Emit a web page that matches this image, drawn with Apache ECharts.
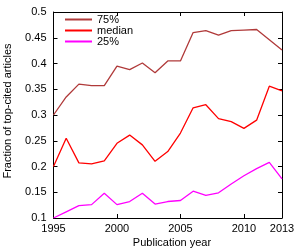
<!DOCTYPE html>
<html><head><meta charset="utf-8">
<script src="https://cdn.jsdelivr.net/npm/echarts@6/dist/echarts.min.js"></script>
<style>html,body{margin:0;padding:0;background:#fff}#c{width:300px;height:250px}</style>
</head><body><div id="c"></div>
<script>
var years = [1995,1996,1997,1998,1999,2000,2001,2002,2003,2004,2005,2006,2007,2008,2009,2010,2011,2012,2013];
var p75 = [0.300,0.335,0.360,0.357,0.357,0.395,0.388,0.401,0.382,0.405,0.405,0.460,0.464,0.455,0.464,0.465,0.466,0.446,0.426];
var median = [0.200,0.255,0.207,0.205,0.211,0.245,0.261,0.242,0.210,0.229,0.265,0.314,0.320,0.293,0.287,0.274,0.290,0.356,0.347];
var p25 = [0.100,0.112,0.124,0.126,0.148,0.126,0.132,0.148,0.127,0.132,0.134,0.152,0.144,0.149,0.166,0.182,0.196,0.208,0.176];
var seriesNames = ['75%','median','25%'];
var colors = ['#b03a3a','#ff0000','#ff00ff'];
var xTitle = 'Publication year';
var yTitle = 'Fraction of top-cited articles';

function pairs(v){ return years.map(function(y,i){ return [y, v[i]]; }); }
var font = 'Liberation Sans, Arial, sans-serif';
var chart = echarts.init(document.getElementById('c'), null, {renderer:'canvas'});
var axLine = {show:true, lineStyle:{color:'#000', width:1}};
chart.setOption({
  animation:false,
  grid:{left:53.5, right:18, top:12, bottom:32, containLabel:false},
  legend:{show:true, left:65, top:14, orient:'vertical', itemWidth:27, itemHeight:2, itemGap:0, itemTextGap:6,
    icon:'rect', padding:0,
    textStyle:{fontFamily:font, fontSize:11, lineHeight:11, color:'#000', padding:0},
    data:seriesNames},
  xAxis:[
    {type:'value', min:1995, max:2013, interval:5, position:'bottom',
     axisLine:axLine, splitLine:{show:false},
     axisTick:{show:true, inside:true, length:4, lineStyle:{color:'#000'}},
     axisLabel:{fontFamily:font, fontSize:11, color:'#000', margin:5,
       formatter:function(v){ return String(v); }}},
    {type:'value', min:1995, max:2013, interval:5, position:'top',
     axisLine:axLine, splitLine:{show:false},
     axisTick:{show:true, inside:true, length:4, lineStyle:{color:'#000'}},
     axisLabel:{show:false}}
  ],
  yAxis:[
    {type:'value', min:0.1, max:0.5, interval:0.05, position:'left',
     axisLine:axLine, splitLine:{show:false},
     axisTick:{show:true, inside:true, length:4, lineStyle:{color:'#000'}},
     axisLabel:{fontFamily:font, fontSize:11, color:'#000', margin:7,
       formatter:function(v){ return String(parseFloat(v.toFixed(2))); }}},
    {type:'value', min:0.1, max:0.5, interval:0.05, position:'right',
     axisLine:axLine, splitLine:{show:false},
     axisTick:{show:true, inside:true, length:4, lineStyle:{color:'#000'}},
     axisLabel:{show:false}}
  ],
  series:[
    {name:seriesNames[0], type:'line', data:pairs(p75), color:colors[0], showSymbol:false, lineStyle:{width:1.3, color:colors[0]}},
    {name:seriesNames[1], type:'line', data:pairs(median), color:colors[1], showSymbol:false, lineStyle:{width:1.3, color:colors[1]}},
    {name:seriesNames[2], type:'line', data:pairs(p25), color:colors[2], showSymbol:false, lineStyle:{width:1.3, color:colors[2]}}
  ],
  graphic:[
    {type:'text', x:172, y:237, style:{text:xTitle, font:'11px '+font, fill:'#000', align:'center', verticalAlign:'top'}},
    {type:'text', rotation:Math.PI/2, x:2, y:111, style:{text:yTitle, font:'11px '+font, fill:'#000', align:'center', verticalAlign:'top'}}
  ]
});
</script></body></html>
